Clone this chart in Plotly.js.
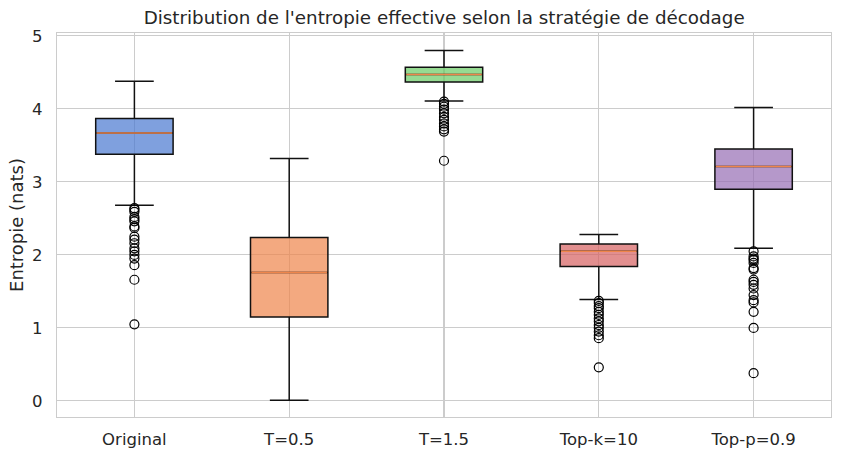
<!DOCTYPE html>
<html>
<head>
<meta charset="utf-8">
<script src="https://cdn.plot.ly/plotly-3.0.1.min.js"></script>
<style>html,body{margin:0;padding:0;background:#fff;}#chart{width:842px;height:459px;}</style>
</head>
<body>
<div id="chart"></div>
<script>
const categories = ["Original", "T=0.5", "T=1.5", "Top-k=10", "Top-p=0.9"];
const lowerWhisker = [2.68, 0.01, 4.11, 1.39, 2.09];
const q1Values     = [3.38, 1.15, 4.37, 1.84, 2.90];
const medians      = [3.67, 1.76, 4.47, 2.05, 3.21];
const q3Values     = [3.87, 2.24, 4.57, 2.15, 3.45];
const upperWhisker = [4.38, 3.32, 4.80, 2.28, 4.02];
const outliers = [
  [2.64, 2.62, 2.59, 2.52, 2.49, 2.46, 2.39, 2.37, 2.25, 2.21, 2.16, 2.09, 2.05, 2.00, 1.95, 1.86, 1.66, 1.05],
  [],
  [4.10, 4.07, 4.03, 3.99, 3.94, 3.89, 3.85, 3.80, 3.76, 3.72, 3.69, 3.29],
  [1.37, 1.34, 1.30, 1.27, 1.22, 1.18, 1.13, 1.09, 1.04, 1.00, 0.95, 0.90, 0.86, 0.46],
  [2.05, 1.98, 1.95, 1.93, 1.89, 1.82, 1.80, 1.66, 1.63, 1.59, 1.54, 1.45, 1.38, 1.35, 1.22, 1.00, 0.38]
];
const fillColors = ["rgba(72,120,208,0.7)", "rgba(238,133,74,0.7)", "rgba(106,204,100,0.7)", "rgba(214,95,95,0.7)", "rgba(149,108,180,0.7)"];

const positions = categories.map((c, i) => i + 1);
const boxWidth = 0.5;
const traces = [];

categories.forEach((cat, i) => {
  traces.push({
    type: "box",
    x: [positions[i]],
    q1: [q1Values[i]],
    median: [medians[i]],
    q3: [q3Values[i]],
    lowerfence: [lowerWhisker[i]],
    upperfence: [upperWhisker[i]],
    width: boxWidth,
    whiskerwidth: 0.5,
    fillcolor: fillColors[i],
    line: {color: "#111111", width: 1.5},
    boxpoints: false,
    showlegend: false,
    hoverinfo: "skip"
  });
  traces.push({
    type: "scatter",
    mode: "lines",
    x: [positions[i] - boxWidth / 2 + 0.006, positions[i] + boxWidth / 2 - 0.006],
    y: [medians[i], medians[i]],
    line: {color: "#ee854a", width: 1.5},
    showlegend: false,
    hoverinfo: "skip"
  });
  if (outliers[i].length) {
    traces.push({
      type: "scatter",
      mode: "markers",
      x: outliers[i].map(() => positions[i]),
      y: outliers[i],
      marker: {symbol: "circle-open", size: 9, color: "#000", line: {width: 1.2, color: "#000"}},
      showlegend: false,
      hoverinfo: "skip"
    });
  }
});

const layout = {
  width: 842,
  height: 459,
  margin: {l: 57, r: 11, t: 33, b: 42},
  paper_bgcolor: "#fff",
  plot_bgcolor: "#fff",
  font: {family: "DejaVu Sans", color: "#262626", size: 16.5},
  title: {
    text: "Distribution de l'entropie effective selon la stratégie de décodage",
    font: {family: "DejaVu Sans", size: 18.3, color: "#262626"},
    x: 0.5275, xanchor: "center",
    y: 0.961, yanchor: "middle", yref: "container"
  },
  xaxis: {
    range: [0.5, 5.5],
    tickmode: "array",
    tickvals: positions,
    ticktext: categories,
    showgrid: true,
    gridcolor: "#cccccc",
    gridwidth: 1.1,
    zeroline: false,
    showline: true,
    mirror: true,
    linecolor: "#cccccc",
    linewidth: 1.3,
    ticks: "",
    ticklabelstandoff: 7,
    tickfont: {size: 16.5, color: "#262626"}
  },
  yaxis: {
    range: [-0.22, 5.04],
    tickmode: "array",
    tickvals: [0, 1, 2, 3, 4, 5],
    ticktext: ["0", "1", "2", "3", "4", "5"],
    showgrid: true,
    gridcolor: "#cccccc",
    gridwidth: 1.1,
    zeroline: false,
    showline: true,
    mirror: true,
    linecolor: "#cccccc",
    linewidth: 1.3,
    ticks: "",
    ticklabelstandoff: 10,
    tickfont: {size: 16.5, color: "#262626"},
    title: {text: "Entropie (nats)", font: {size: 18, color: "#262626"}, standoff: 3}
  }
};

Plotly.newPlot("chart", traces, layout, {displayModeBar: false, staticPlot: true});
</script>
</body>
</html>
